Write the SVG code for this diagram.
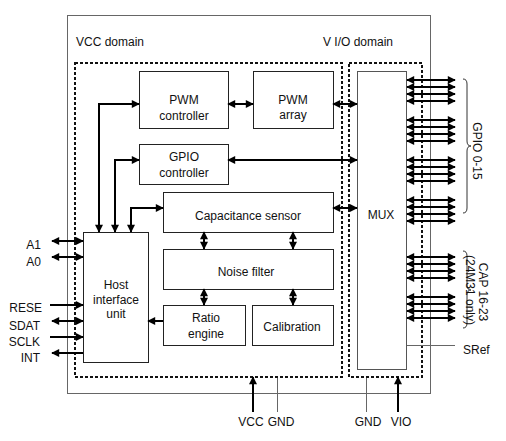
<svg xmlns="http://www.w3.org/2000/svg" width="506" height="441" viewBox="0 0 506 441">
<defs>
<style>
text{font-family:"Liberation Sans",Arial,sans-serif;font-size:12px;fill:#111}
.mid{text-anchor:middle}
.end{text-anchor:end}
.box{fill:#fff;stroke:#222;stroke-width:1}
.outer{fill:#fff;stroke:#666;stroke-width:1}
.dash{fill:none;stroke:#111;stroke-width:2;stroke-dasharray:3 2}
.w{fill:none;stroke:#000;stroke-width:2}
.dbl{fill:none;stroke:#000;stroke-width:2;marker-start:url(#ah);marker-end:url(#ah)}
.one{fill:none;stroke:#000;stroke-width:2;marker-end:url(#ah)}
.thin{fill:none;stroke:#666;stroke-width:1}
</style>
<marker id="ah" viewBox="0 0 10 10" refX="9" refY="5" markerWidth="9" markerHeight="8" markerUnits="userSpaceOnUse" orient="auto-start-reverse"><path d="M0,0 L10,5 L0,10 z" fill="#000"/></marker>
</defs>
<rect width="506" height="441" fill="#fff"/>
<rect id="chip" class="outer" x="67.5" y="15.5" width="363" height="378"/>
<text x="76" y="46">VCC domain</text>
<text x="323" y="46">V I/O domain</text>
<rect id="vcc-domain" class="dash" x="75" y="63" width="267" height="314"/>
<rect id="vio-domain" class="dash" x="349" y="63" width="73" height="314"/>

<g id="pwm-controller"><rect class="box" x="139.5" y="71.5" width="89" height="57"/><text class="mid" x="184" y="104">PWM</text><text class="mid" x="184" y="120">controller</text></g>
<g id="pwm-array"><rect class="box" x="253.5" y="71.5" width="80" height="57"/><text class="mid" x="293" y="104">PWM</text><text class="mid" x="293" y="119">array</text></g>
<g id="gpio-controller"><rect class="box" x="139.5" y="144.5" width="89" height="40"/><text class="mid" x="184" y="161">GPIO</text><text class="mid" x="184" y="177">controller</text></g>
<g id="cap-sensor"><rect class="box" x="163.5" y="192.5" width="170" height="40"/><text class="mid" x="248" y="220">Capacitance sensor</text></g>
<g id="noise-filter"><rect class="box" x="163.5" y="249.5" width="170" height="40"/><text class="mid" x="246" y="276">Noise filter</text></g>
<g id="ratio-engine"><rect class="box" x="163.5" y="305.5" width="82" height="40"/><text class="mid" x="206" y="322">Ratio</text><text class="mid" x="206" y="338">engine</text></g>
<g id="calibration"><rect class="box" x="252.5" y="305.5" width="81" height="40"/><text class="mid" x="292" y="331">Calibration</text></g>
<g id="host"><rect class="box" x="83.5" y="232.5" width="65" height="130"/><text class="mid" x="116" y="289">Host</text><text class="mid" x="116" y="304">interface</text><text class="mid" x="116" y="318">unit</text></g>
<g id="mux"><rect class="box" x="357.5" y="71.5" width="49" height="298" style="stroke:#555"/><text class="mid" x="381" y="219">MUX</text></g>

<g id="connectors">
<line class="dbl" x1="228" y1="104" x2="253" y2="104"/>
<line class="dbl" x1="333" y1="104" x2="357" y2="104"/>
<line class="dbl" x1="228" y1="160" x2="357" y2="160"/>
<line class="dbl" x1="333" y1="208" x2="357" y2="208"/>
<polyline class="dbl" points="99,232 99,104 139,104"/>
<polyline class="dbl" points="115,232 115,160 139,160"/>
<polyline class="dbl" points="131,232 131,208 163,208"/>
<line class="dbl" x1="204" y1="232" x2="204" y2="249"/>
<line class="dbl" x1="293" y1="232" x2="293" y2="249"/>
<line class="dbl" x1="204" y1="289" x2="204" y2="305"/>
<line class="dbl" x1="293" y1="289" x2="293" y2="305"/>
<line class="one" x1="163" y1="321" x2="148" y2="321"/>
<line class="dbl" x1="52" y1="241" x2="83" y2="241"/>
<line class="dbl" x1="52" y1="257" x2="83" y2="257"/>
<line class="one" x1="50" y1="305" x2="83" y2="305"/>
<line class="dbl" x1="52" y1="321" x2="83" y2="321"/>
<line class="one" x1="50" y1="337" x2="83" y2="337"/>
<line class="one" x1="83" y1="353" x2="52" y2="353"/>
<g id="gpio-pins">
<line class="dbl" x1="407" y1="80" x2="455" y2="80"/>
<line class="dbl" x1="407" y1="87" x2="455" y2="87"/>
<line class="dbl" x1="407" y1="94" x2="455" y2="94"/>
<line class="dbl" x1="407" y1="101" x2="455" y2="101"/>
<line class="dbl" x1="407" y1="120" x2="455" y2="120"/>
<line class="dbl" x1="407" y1="127" x2="455" y2="127"/>
<line class="dbl" x1="407" y1="134" x2="455" y2="134"/>
<line class="dbl" x1="407" y1="141" x2="455" y2="141"/>
<line class="dbl" x1="407" y1="160" x2="455" y2="160"/>
<line class="dbl" x1="407" y1="167" x2="455" y2="167"/>
<line class="dbl" x1="407" y1="174" x2="455" y2="174"/>
<line class="dbl" x1="407" y1="181" x2="455" y2="181"/>
<line class="dbl" x1="407" y1="200" x2="455" y2="200"/>
<line class="dbl" x1="407" y1="207" x2="455" y2="207"/>
<line class="dbl" x1="407" y1="214" x2="455" y2="214"/>
<line class="dbl" x1="407" y1="221" x2="455" y2="221"/>
</g>
<g id="cap-pins">
<line class="dbl" x1="407" y1="257" x2="455" y2="257"/>
<line class="dbl" x1="407" y1="264" x2="455" y2="264"/>
<line class="dbl" x1="407" y1="271" x2="455" y2="271"/>
<line class="dbl" x1="407" y1="278" x2="455" y2="278"/>
<line class="dbl" x1="407" y1="297" x2="455" y2="297"/>
<line class="dbl" x1="407" y1="304" x2="455" y2="304"/>
<line class="dbl" x1="407" y1="311" x2="455" y2="311"/>
<line class="dbl" x1="407" y1="318" x2="455" y2="318"/>
</g>
<line class="thin" x1="407" y1="345.5" x2="455" y2="345.5"/>
<line class="one" x1="253" y1="412" x2="253" y2="377"/>
<line class="thin" x1="277.5" y1="378" x2="277.5" y2="412"/>
<line class="thin" x1="366.5" y1="378" x2="366.5" y2="412"/>
<line class="one" x1="398" y1="412" x2="398" y2="377"/>
<path class="thin" d="M463,79 Q467,79 467,84 L467,141 Q467,146 471,146 Q467,146 467,151 L467,208 Q467,213 463,213" style="stroke:#333"/>
<path class="thin" d="M463,251 Q467,251 467,256 L467,285 Q467,290 471,290 Q467,290 467,295 L467,323 Q467,328 463,328" style="stroke:#333"/>
</g>

<text class="end" x="41" y="249">A1</text>
<text class="end" x="41" y="266">A0</text>
<text class="end" x="42" y="312">RESE</text>
<text class="end" x="40" y="330">SDAT</text>
<text class="end" x="40" y="346">SCLK</text>
<text class="end" x="40" y="362">INT</text>
<text class="mid" transform="translate(473,151) rotate(90)">GPIO 0-15</text>
<text class="mid" transform="translate(479,292) rotate(90)">CAP 16-23</text>
<text class="mid" transform="translate(466,290) rotate(90)">(24M31 only)</text>
<text x="463" y="354">SRef</text>
<text class="mid" x="251" y="426">VCC</text>
<text class="mid" x="281" y="426">GND</text>
<text class="mid" x="368" y="426">GND</text>
<text class="mid" x="401" y="426">VIO</text>
</svg>
